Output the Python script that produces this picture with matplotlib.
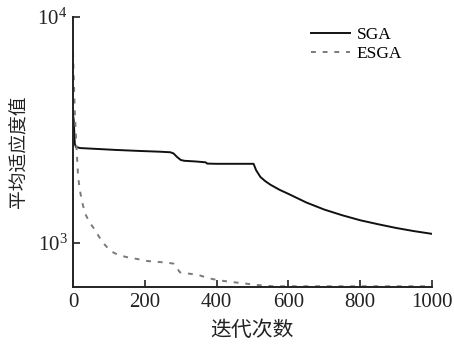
import matplotlib
matplotlib.use("Agg")
import matplotlib.pyplot as plt
from matplotlib.ticker import NullLocator, FixedLocator

plt.rcParams['font.family'] = ['Liberation Serif', 'Noto Sans CJK SC']
plt.rcParams['mathtext.fontset'] = 'stix'

# Data
sga_x = [0, 2, 5, 8, 20, 60, 120, 187, 240, 271, 280, 290, 300, 310, 340, 369, 374,
         400, 450, 503, 506, 510, 515, 522, 535, 550, 575, 600, 650, 700, 750, 800,
         850, 900, 950, 1000]
sga_y = [3700, 3500, 2750, 2660, 2630, 2610, 2580, 2553, 2535, 2520, 2490, 2400, 2330,
         2310, 2295, 2275, 2245, 2240, 2240, 2240, 2180, 2100, 2040, 1960, 1880, 1810,
         1720, 1649, 1510, 1405, 1326, 1260, 1210, 1165, 1128, 1097]

esga_x = [0, 5, 10, 14, 18, 25, 33, 45, 61, 75, 89, 105, 126, 150, 179, 206, 262, 280,
          288, 295, 299, 349, 375, 402, 440, 474, 510, 558, 1000]
esga_y = [7000, 3800, 2600, 2000, 1750, 1530, 1358, 1240, 1143, 1050, 980, 920, 885,
          865, 849, 832, 818, 810, 790, 750, 740, 722, 700, 685, 672, 663, 652, 643, 643]

series_labels = ['SGA', 'ESGA']
x_ticks = [0, 200, 400, 600, 800, 1000]
y_ticks = [1e3, 1e4]
x_label = '迭代次数'
y_label = '平均适应度值'

fig = plt.figure(figsize=(4.54, 3.45), dpi=100)
ax = fig.add_axes([0.1608, 0.168, 0.7907, 0.7827])

ax.plot(sga_x, sga_y, color='#111111', lw=1.4, label=series_labels[0])
ax.plot(esga_x, esga_y, color='#7a7a7a', lw=1.4, ls=(0, (2.5, 3.5)), label=series_labels[1])

ax.set_yscale('log')
ax.set_xlim(0, 1000)
ax.set_ylim(638, 1e4)
ax.yaxis.set_major_locator(FixedLocator(y_ticks))
ax.yaxis.set_minor_locator(NullLocator())
ax.set_xticks(x_ticks)

for s in ['top', 'right']:
    ax.spines[s].set_visible(False)
for s in ['left', 'bottom']:
    ax.spines[s].set_linewidth(1.4)
    ax.spines[s].set_color('#222222')

ax.tick_params(direction='in', length=5, width=1.2, labelsize=15, pad=4, colors='#222222')

ax.set_xlabel(x_label, fontsize=15, family=['Noto Sans CJK SC'], labelpad=5, color='#222222')
ax.set_ylabel(y_label, fontsize=13.5, family=['Noto Sans CJK SC'], labelpad=6, color='#222222')

leg = ax.legend(loc='upper right', bbox_to_anchor=(0.96, 1.02), frameon=False, fontsize=12.5,
                handlelength=2.2, handletextpad=0.4, labelspacing=0.15)

fig.savefig('out.png', dpi=100)
